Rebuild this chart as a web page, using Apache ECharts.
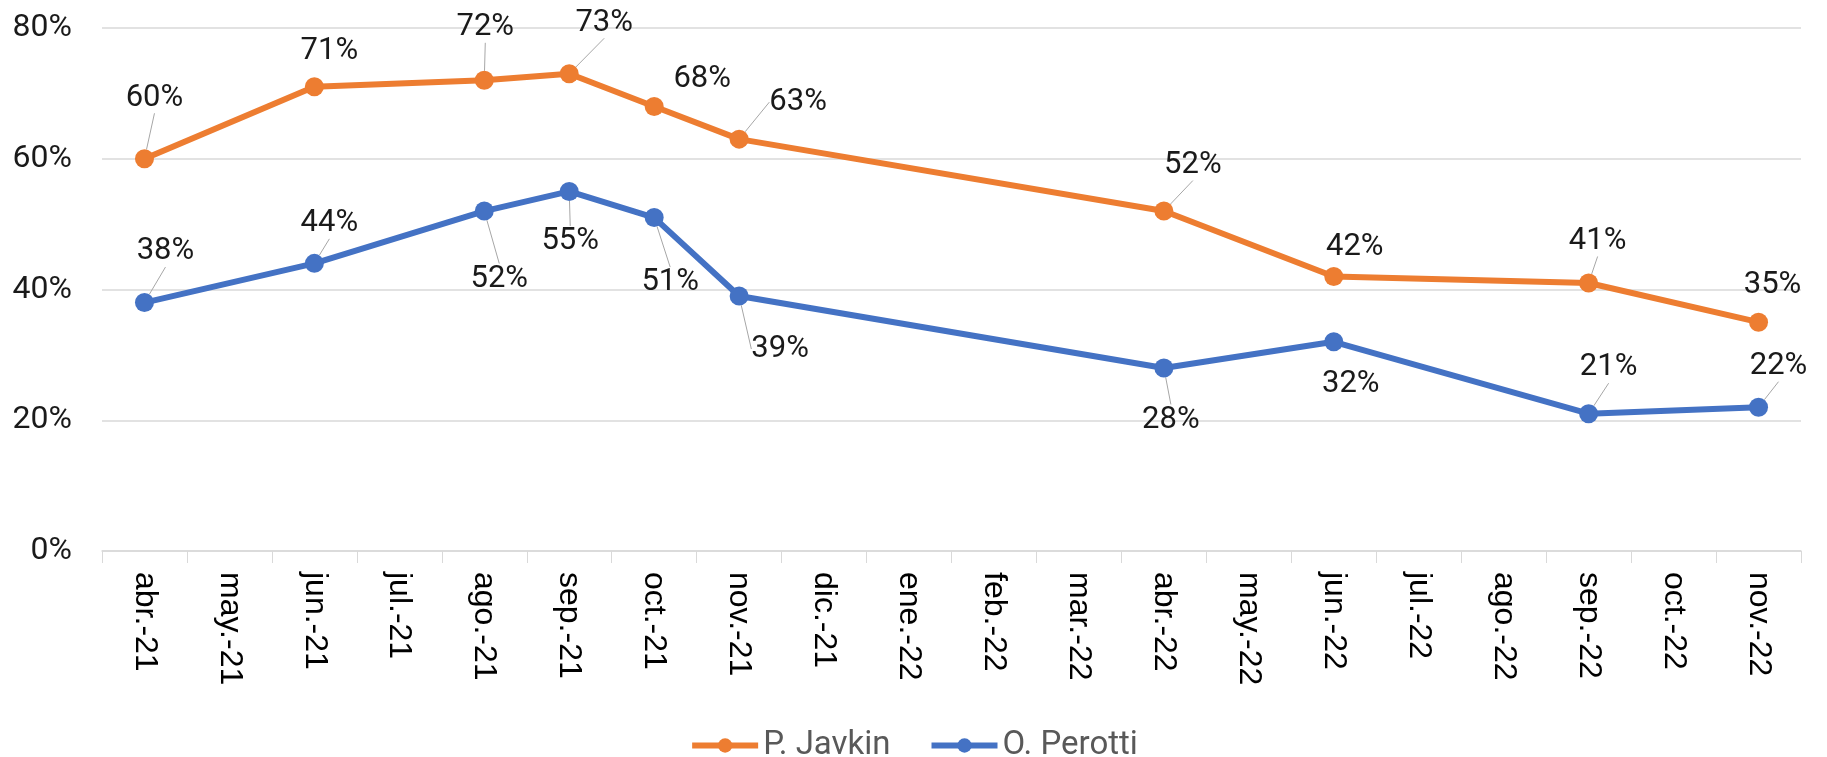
<!DOCTYPE html>
<html>
<head>
<meta charset="utf-8">
<script src="https://cdn.jsdelivr.net/npm/echarts@6/dist/echarts.min.js"></script>
<style>
    html, body { margin: 0; padding: 0; background: #fff; }
    #chart { width: 1827px; height: 757px; }
</style>
</head>
<body>
<div id="chart"></div>
<script>
var months = ['abr.-21', 'may.-21', 'jun.-21', 'jul.-21', 'ago.-21', 'sep.-21', 'oct.-21', 'nov.-21', 'dic.-21', 'ene.-22',
    'feb.-22', 'mar.-22', 'abr.-22', 'may.-22', 'jun.-22', 'jul.-22', 'ago.-22', 'sep.-22', 'oct.-22', 'nov.-22'];
var javkin = [60, null, 71, null, 72, 73, 68, 63, null, null, null, null, 52, null, 42, null, null, 41, null, 35];
var perotti = [38, null, 44, null, 52, 55, 51, 39, null, null, null, null, 28, null, 32, null, null, 21, null, 22];
var yTicks = [0, 20, 40, 60, 80];

// where each value label sits, relative to its point (px), and whether it gets a leader line
var javkinLabelPos = [[10, -61], null, [15, -36], null, [1, -53], [35, -51], [48, -27], [59, -37], null, null,
    null, null, [29, -46], null, [21, -29], null, null, [9, -42], null, [14, -37]];
var javkinLeader = [1, 0, 0, 0, 1, 1, 0, 1, 0, 0, 0, 0, 1, 0, 0, 0, 0, 1, 0, 0];
var perottiLabelPos = [[21, -51], null, [15, -40], null, [15, 68], [1, 50], [16, 65], [41, 53], null, null,
    null, null, [7, 52], null, [17, 42], null, null, [20, -46], null, [20, -41]];
var perottiLeader = [1, 0, 1, 0, 1, 1, 1, 1, 0, 0, 0, 0, 1, 0, 0, 0, 0, 1, 0, 1];

function buildData(vals, leader) {
    return vals.map(function (v, i) {
        if (v === null) return null;
        return { value: v, labelLine: { show: !!leader[i] } };
    });
}

function makeSeries(name, vals, color, pos, leader) {
    return {
        name: name,
        type: 'line',
        data: buildData(vals, leader),
        connectNulls: true,
        symbol: 'circle',
        symbolSize: 19,
        itemStyle: { color: color },
        lineStyle: { color: color, width: 6 },
        label: {
            show: true,
            position: 'inside',
            formatter: '{c}%',
            fontFamily: 'Roboto',
            fontSize: 31,
            color: '#1a1a1a'
        },
        labelLine: {
            show: true,
            lineStyle: { color: '#a6a6a6', width: 1 }
        },
        labelLayout: function (p) {
            var o = pos[p.dataIndex];
            if (!o) return {};
            return { dx: o[0], dy: o[1] };
        }
    };
}

var myChart = echarts.init(document.getElementById('chart'));
var option = {
    animation: false,
    grid: { left: 102, right: 26, top: 28, bottom: 206 },
    legend: {
        top: 724,
        left: 'center',
        itemWidth: 66,
        itemHeight: 18,
        itemGap: 38,
        textStyle: { fontFamily: 'Roboto', fontSize: 33, color: '#595959' },
        lineStyle: { width: 6 },
        data: ['P. Javkin', 'O. Perotti']
    },
    xAxis: {
        type: 'category',
        data: months,
        boundaryGap: true,
        axisLine: { lineStyle: { color: '#d9d9d9', width: 1.5 } },
        axisTick: { show: true, length: 12, lineStyle: { color: '#d9d9d9' } },
        axisLabel: {
            rotate: -90,
            interval: 0,
            margin: 21,
            fontFamily: 'Liberation Sans',
            fontSize: 32,
            color: '#000'
        }
    },
    yAxis: {
        type: 'value',
        min: yTicks[0],
        max: yTicks[yTicks.length - 1],
        interval: 20,
        axisLine: { show: false },
        axisTick: { show: false },
        splitLine: { lineStyle: { color: '#d9d9d9', width: 1.5 } },
        axisLabel: {
            formatter: '{value}%',
            margin: 30,
            fontFamily: 'Roboto',
            fontSize: 32,
            color: '#1a1a1a'
        }
    },
    series: [
        makeSeries('P. Javkin', javkin, '#ed7d31', javkinLabelPos, javkinLeader),
        makeSeries('O. Perotti', perotti, '#4472c4', perottiLabelPos, perottiLeader)
    ]
};
myChart.setOption(option);
window.addEventListener('resize', function () {
    myChart.resize();
});
</script>
</body>
</html>
